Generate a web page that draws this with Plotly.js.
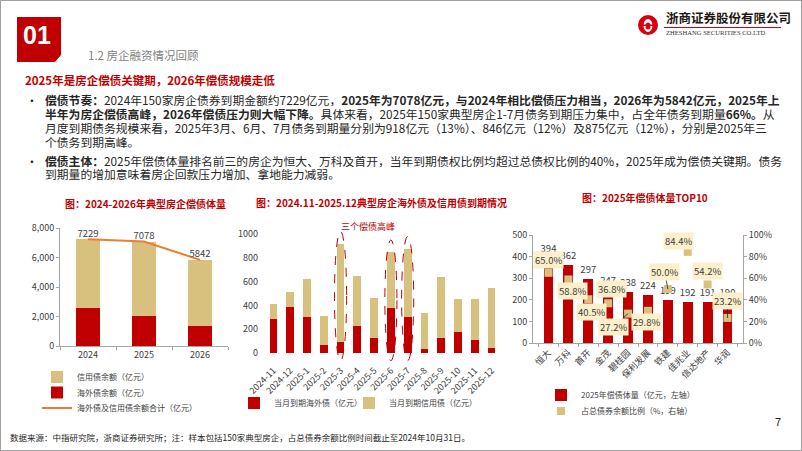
<!DOCTYPE html>
<html>
<head>
<meta charset="utf-8">
<script src="https://cdn.plot.ly/plotly-3.0.1.min.js"></script>
<style>html,body{margin:0;padding:0;background:#fff;}#chart{width:802px;height:451px;}</style>
</head>
<body>
<div id="chart"></div>
<script>
// ---------- DATA ----------
// Chart 1: 2024-2026 典型房企偿债体量
const c1Years = ['2024', '2025', '2026'];
const c1Overseas = [2600, 2050, 1350];
const c1Credit = [4629, 5028, 4492];
const c1Total = [7229, 7078, 5842];

// Chart 2: 2024.11-2025.12 海外债及信用债到期情况
const c2Months = ['2024-11', '2024-12', '2025-1', '2025-2', '2025-3', '2025-4', '2025-5',
                  '2025-6', '2025-7', '2025-8', '2025-9', '2025-10', '2025-11', '2025-12'];
const c2Overseas = [285, 385, 300, 65, 95, 225, 130, 380, 305, 35, 130, 175, 110, 45];
const c2Credit = [130, 125, 320, 245, 823, 420, 330, 466, 570, 300, 505, 280, 345, 505];
const c2Peaks = ['2025-3', '2025-6', '2025-7'];

// Chart 3: 2025年偿债体量TOP10
const c3Companies = ['恒大', '万科', '首开', '金茂', '碧桂园', '保利发展', '铁建', '佳兆业', '信达地产', '华润'];
const c3Volume = [394, 362, 297, 247, 238, 224, 199, 192, 191, 190];
const c3Ratio = [0.650, 0.588, 0.405, 0.368, 0.272, 0.298, 0.500, 0.844, 0.542, 0.232];

// ---------- STYLE ----------
const W = 802, H = 451;
const px = x => x / W;
const py = y => 1 - y / H;
const RED = '#C00000';
const TAN = '#D8C07E';
const ORANGE = '#ED7D31';
const AXIS = '#A6A6A6';
const TXT = '#404040';
const FONT = 'Noto Sans CJK SC, sans-serif';

// label offsets (px) for percentage callouts in chart 3: [dx, dy, showLine]
const c3LabelOffsets = [[0, -13, 0], [4, 11, 0], [3, 13, 0], [3, -14, 0], [-15, 13, 1],
                        [-1, 11, 0], [-3, -17, 1], [-9, -11, 0], [0, -13, 0], [0, -17, 1]];

// ---------- TRACES ----------
const traces = [
  // chart 1
  {type: 'bar', x: c1Years, y: c1Overseas, xaxis: 'x', yaxis: 'y', name: '海外债余额（亿元）',
   marker: {color: RED}, width: 0.42, legend: 'legend2'},
  {type: 'bar', x: c1Years, y: c1Credit, xaxis: 'x', yaxis: 'y', name: '信用债余额（亿元）',
   marker: {color: TAN}, width: 0.42, legend: 'legend'},
  {type: 'scatter', mode: 'lines', x: c1Years, y: c1Total, xaxis: 'x', yaxis: 'y',
   name: '海外债及信用债余额合计（亿元）', line: {color: ORANGE, width: 2}, legend: 'legend3'},
  {type: 'scatter', mode: 'text', x: c1Years, y: c1Total, xaxis: 'x', yaxis: 'y', showlegend: false,
   text: c1Total.map(String), textposition: 'top center', textfont: {size: 9.5, color: TXT, family: FONT},
   cliponaxis: false},
  // chart 2
  {type: 'bar', x: c2Months, y: c2Overseas, xaxis: 'x2', yaxis: 'y2', name: '当月到期海外债（亿元）',
   marker: {color: RED}, width: 0.46, legend: 'legend4'},
  {type: 'bar', x: c2Months, y: c2Credit, xaxis: 'x2', yaxis: 'y2', name: '当月到期信用债（亿元）',
   marker: {color: TAN}, width: 0.46, legend: 'legend7'},
  // chart 3
  {type: 'bar', x: c3Companies, y: c3Volume, xaxis: 'x3', yaxis: 'y3', name: '2025年偿债体量（亿元，左轴）',
   marker: {color: RED}, width: 0.5, legend: 'legend5',
   text: c3Volume.map(String), textposition: 'outside', cliponaxis: false, constraintext: 'none',
   textfont: {size: 9.5, color: TXT, family: FONT}},
  {type: 'scatter', mode: 'markers', x: c3Companies, y: c3Ratio, xaxis: 'x3', yaxis: 'y4',
   name: '占总债券余额比例（%，右轴）', marker: {symbol: 'square', size: 8, color: TAN},
   legend: 'legend6', cliponaxis: false}
];

// ---------- SHAPES ----------
const shapes = [
  {type: 'rect', xref: 'paper', yref: 'paper', x0: 0, x1: 1, y0: 0, y1: 1,
   line: {color: '#A0A0A0', width: 2}, fillcolor: 'rgba(0,0,0,0)'},
  {type: 'path', xref: 'paper', yref: 'paper',
   path: `M${px(17)},${py(17)} L${px(61)},${py(17)} L${px(61)},${py(55)} L${px(55)},${py(62)} L${px(17)},${py(62)} Z`,
   fillcolor: RED, line: {width: 0}},
  {type: 'circle', xref: 'paper', yref: 'paper', x0: px(638), x1: px(658), y0: py(35), y1: py(15),
   fillcolor: '#D7000F', line: {width: 0}},
  {type: 'circle', xref: 'paper', yref: 'paper', x0: px(643.5), x1: px(652.5), y0: py(32), y1: py(19),
   fillcolor: '#FFFFFF', line: {width: 0}},
  {type: 'circle', xref: 'paper', yref: 'paper', x0: px(645.5), x1: px(650.5), y0: py(29.5), y1: py(22.5),
   fillcolor: '#D7000F', line: {width: 0}},
  {type: 'rect', xref: 'paper', yref: 'paper', x0: px(640), x1: px(656), y0: py(26), y1: py(24.5),
   fillcolor: '#D7000F', line: {width: 0}},
  {type: 'line', xref: 'paper', yref: 'paper', x0: px(664), x1: px(781), y0: py(27.5), y1: py(27.5),
   line: {color: '#D7000F', width: 1}}
];
c2Peaks.forEach(m => {
  const i = c2Months.indexOf(m);
  const total = c2Overseas[i] + c2Credit[i];
  shapes.push({type: 'circle', xref: 'x2', yref: 'y2', x0: i - 0.36, x1: i + 0.36,
               y0: -65, y1: total + 105,
               line: {color: RED, width: 1, dash: 'dash'}, fillcolor: 'rgba(0,0,0,0)'});
});

// ---------- ANNOTATIONS ----------
const A = (x, y, text, opts) => Object.assign({xref: 'paper', yref: 'paper', x: px(x), y: py(y), text: text,
  showarrow: false, xanchor: 'left', yanchor: 'middle', font: {family: FONT, size: 11.8, color: '#262626'}}, opts || {});

const annotations = [
  A(36.5, 35, '<b>01</b>', {xanchor: 'center', font: {family: 'Liberation Sans, Arial, sans-serif', size: 25, color: '#FFFFFF'}}),
  A(86, 55.5, '1.2 房企融资情况回顾', {font: {family: FONT, size: 11.5, color: '#7F7F7F'}}),
  A(664, 17.5, '<b>浙商证券股份有限公司</b>', {font: {family: FONT, size: 12.5, color: '#231815'}}),
  A(664, 33, 'ZHESHANG SECURITIES CO.LTD', {font: {family: 'Liberation Serif, serif', size: 6.6, color: '#333333'}}),
  A(23, 80, '<b>2025年是房企偿债关键期，2026年偿债规模走低</b>', {font: {family: FONT, size: 11.5, color: RED}}),
  A(24, 100, '•'),
  A(43, 100, '<b>偿债节奏：</b>2024年150家房企债券到期金额约7229亿元，<b>2025年为7078亿元，与2024年相比偿债压力相当，2026年为5842亿元，2025年上</b>'),
  A(43, 113.5, '<b>半年为房企偿债高峰，2026年偿债压力则大幅下降。</b>具体来看，2025年150家典型房企1-7月债务到期压力集中，占全年债务到期量<b>66%。</b>从'),
  A(43, 127.5, '月度到期债务规模来看，2025年3月、6月、7月债务到期量分别为918亿元（13%）、846亿元（12%）及875亿元（12%），分别是2025年三'),
  A(43, 141, '个债务到期高峰。'),
  A(24, 160, '•'),
  A(43, 160, '<b>偿债主体：</b>2025年偿债体量排名前三的房企为恒大、万科及首开，当年到期债权比例均超过总债权比例的40%，2025年成为偿债关键期。债务'),
  A(43, 173.5, '到期量的增加意味着房企回款压力增加、拿地能力减弱。'),
  A(145, 203, '<b>图：2024-2026年典型房企偿债体量</b>', {xanchor: 'center', font: {family: FONT, size: 10, color: RED}}),
  A(381, 202, '<b>图：2024.11-2025.12典型房企海外债及信用债到期情况</b>', {xanchor: 'center', font: {family: FONT, size: 10, color: RED}}),
  A(645, 198, '<b>图：2025年偿债体量TOP10</b>', {xanchor: 'center', font: {family: FONT, size: 10, color: RED}}),
  A(368, 226, '三个偿债高峰', {xanchor: 'center', font: {family: FONT, size: 9, color: RED}}),
  A(8, 437, '数据来源：中指研究院，浙商证券研究所；注：样本包括150家典型房企，占总债券余额比例时间截止至2024年10月31日。',
    {font: {family: FONT, size: 8.5, color: '#262626'}}),
  A(778, 421, '7', {xanchor: 'center', font: {family: FONT, size: 11, color: '#262626'}})
];
c3Companies.forEach((c, i) => {
  const o = c3LabelOffsets[i];
  annotations.push({xref: 'x3', yref: 'y4', x: c, y: c3Ratio[i], text: (c3Ratio[i] * 100).toFixed(1) + '%',
    showarrow: true, arrowhead: 0, arrowwidth: 0.8, standoff: 0,
    arrowcolor: o[2] ? '#262626' : 'rgba(0,0,0,0)', ax: o[0], ay: o[1],
    bgcolor: '#FCEFCB', borderpad: 1, font: {family: FONT, size: 9.5, color: TXT}});
});

// ---------- LAYOUT ----------
const tickFont = {family: FONT, size: 9, color: TXT};
const legendFont = {family: FONT, size: 8, color: TXT};
const oneLegend = (x, y) => ({x: px(x), y: py(y), xanchor: 'left', yanchor: 'middle', orientation: 'v',
  bgcolor: 'rgba(0,0,0,0)', font: legendFont, traceorder: 'normal'});
const layout = {
  width: W, height: H,
  margin: {l: 0, r: 0, t: 0, b: 0},
  paper_bgcolor: '#FFFFFF', plot_bgcolor: 'rgba(0,0,0,0)',
  font: {family: FONT, color: TXT},
  barmode: 'stack', hovermode: false, showlegend: true,
  xaxis: {domain: [px(60), px(228)], anchor: 'y', type: 'category', showline: true, linecolor: AXIS,
          ticks: 'outside', tickson: 'boundaries', ticklen: 3, tickcolor: AXIS, tickfont: tickFont,
          showgrid: false},
  yaxis: {domain: [py(346), py(228)], anchor: 'x', range: [0, 8000], dtick: 2000, tickformat: ',',
          showline: true, linecolor: AXIS, ticks: 'outside', ticklen: 3, tickcolor: AXIS,
          showgrid: false, zeroline: false, tickfont: tickFont},
  xaxis2: {domain: [px(265), px(500)], anchor: 'y2', type: 'category', showline: false, ticks: '',
           tickangle: -45, tickfont: tickFont, showgrid: false},
  yaxis2: {domain: [py(362.5), py(226.9)], anchor: 'x2', range: [-80, 1060],
           tickvals: [0, 200, 400, 600, 800, 1000], showline: false, ticks: '', showgrid: false,
           zeroline: false, tickfont: tickFont, ticklabelstandoff: 6},
  xaxis3: {domain: [px(533), px(743)], anchor: 'y3', type: 'category', showline: true, linecolor: AXIS,
           ticks: 'outside', tickson: 'boundaries', ticklen: 3, tickcolor: AXIS,
           tickangle: -45, tickfont: tickFont, showgrid: false},
  yaxis3: {domain: [py(343), py(235)], anchor: 'x3', range: [0, 500], dtick: 100,
           showline: true, linecolor: AXIS, ticks: 'outside', ticklen: 3, tickcolor: AXIS,
           showgrid: false, zeroline: false, tickfont: tickFont},
  yaxis4: {overlaying: 'y3', anchor: 'x3', side: 'right', range: [0, 1], dtick: 0.2, tickformat: '.0%',
           showline: true, linecolor: AXIS, ticks: 'outside', ticklen: 3, tickcolor: AXIS,
           showgrid: false, zeroline: false, tickfont: tickFont},
  legend: oneLegend(37, 377),
  legend2: oneLegend(37, 392.5),
  legend3: oneLegend(37, 408),
  legend4: oneLegend(234, 403),
  legend7: oneLegend(349, 403),
  legend5: oneLegend(541, 395),
  legend6: oneLegend(541, 411),
  shapes: shapes,
  annotations: annotations
};

Plotly.newPlot('chart', traces, layout, {staticPlot: true, displayModeBar: false});
</script>
</body>
</html>
